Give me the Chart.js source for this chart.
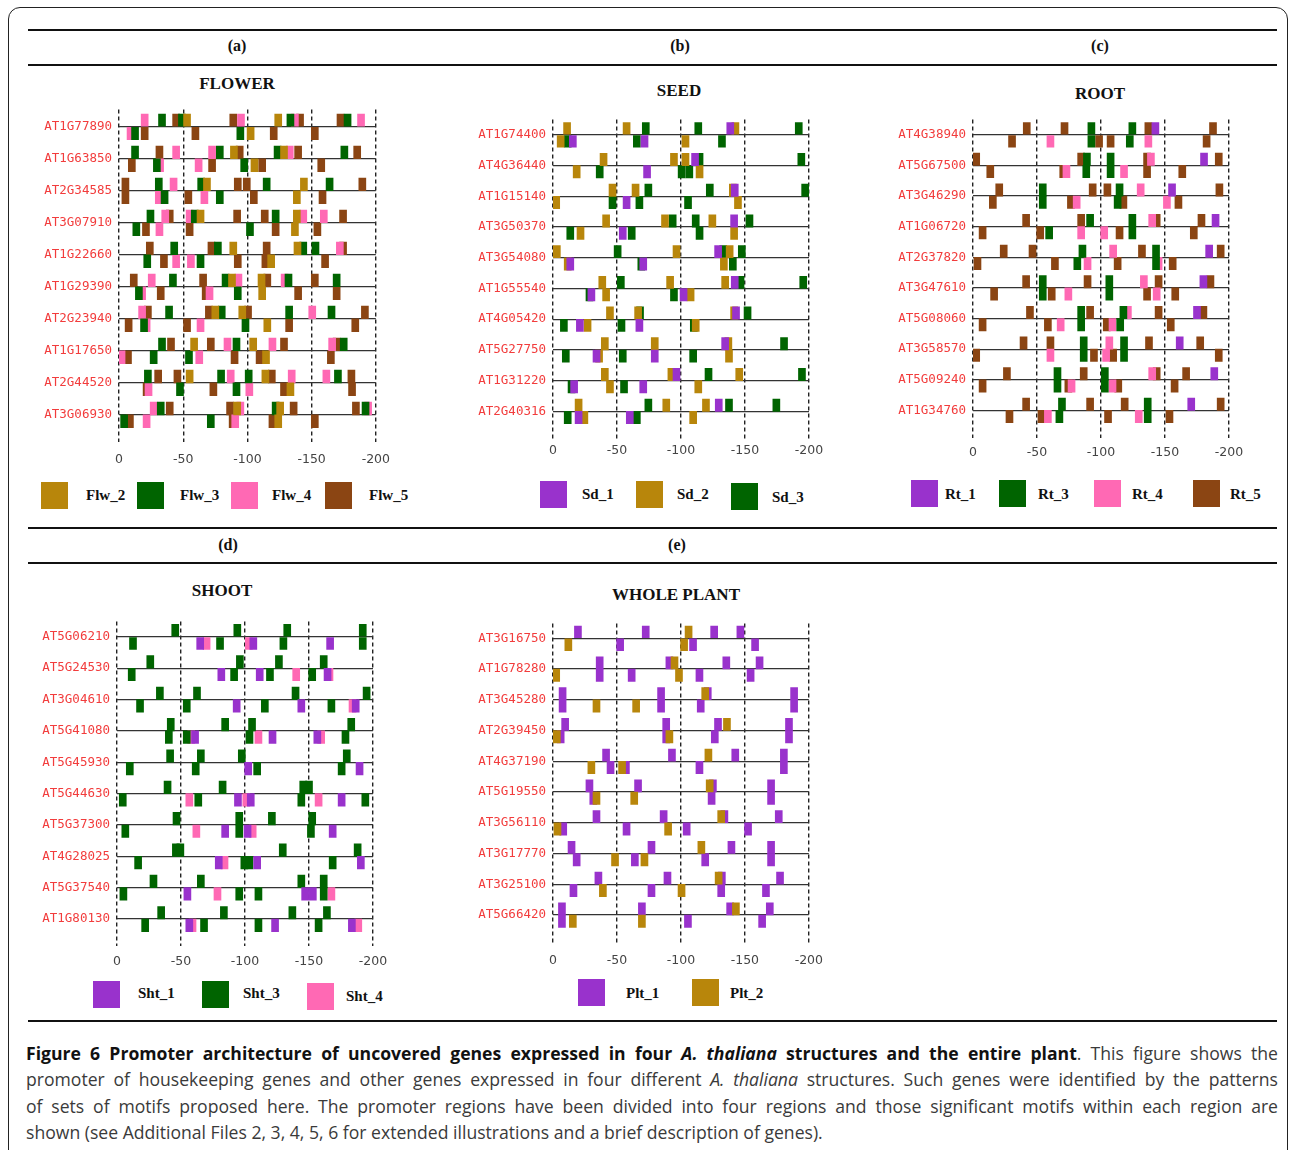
<!DOCTYPE html>
<html>
<head>
<meta charset="utf-8">
<script src="https://cdn.jsdelivr.net/npm/chart.js@4.4.1/dist/chart.umd.min.js"></script>
<style>
  body { margin: 0; background: #fff; width: 1290px; height: 1150px; overflow: hidden; position: relative; }
  .abs { position: absolute; }
  .frame { left: 8px; top: 7px; width: 1280px; height: 1180px; border: 1.5px solid #222; border-radius: 12px 12px 0 0; box-sizing: border-box; }
  .rule { left: 28px; width: 1249px; height: 2px; background: #111; }
  .hdr { font: bold 16px 'Liberation Serif', serif; transform: translate(-50%, -50%); color: #111; }
  .ttl { font: bold 17px 'Liberation Serif', serif; transform: translate(-50%, -50%); color: #111; white-space: nowrap; }
  .sw { width: 27px; height: 27px; }
  .lab { font: bold 15px 'Liberation Serif', serif; transform: translateY(-50%); color: #111; }
  .cap { left: 26px; width: 1252px; font: 17.6px 'Open Sans', sans-serif; color: #3a3a3a; line-height: 26px; text-align: justify; text-align-last: justify; white-space: nowrap; }
  .cap.last { text-align-last: left; }
  .cap b { color: #111; }
</style>
</head>
<body>
<div class="abs frame"></div>
<div class="abs rule" style="top:29px"></div>
<div class="abs rule" style="top:64px"></div>
<div class="abs rule" style="top:527px"></div>
<div class="abs rule" style="top:562px"></div>
<div class="abs rule" style="top:1020px"></div>

<div class="abs hdr" style="left:237px;top:46px">(a)</div>
<div class="abs hdr" style="left:680px;top:46px">(b)</div>
<div class="abs hdr" style="left:1100px;top:46px">(c)</div>
<div class="abs hdr" style="left:228px;top:545px">(d)</div>
<div class="abs hdr" style="left:677px;top:545px">(e)</div>

<div class="abs ttl" style="left:237px;top:84px">FLOWER</div>
<div class="abs ttl" style="left:679px;top:91px">SEED</div>
<div class="abs ttl" style="left:1100px;top:94px">ROOT</div>
<div class="abs ttl" style="left:222px;top:591px">SHOOT</div>
<div class="abs ttl" style="left:676px;top:595px">WHOLE PLANT</div>

<canvas id="cFlower" class="abs"></canvas>
<canvas id="cSeed" class="abs"></canvas>
<canvas id="cRoot" class="abs"></canvas>
<canvas id="cShoot" class="abs"></canvas>
<canvas id="cPlant" class="abs"></canvas>
<div id="legends"></div>

<div class="abs cap" style="top:1040px"><b>Figure 6 Promoter architecture of uncovered genes expressed in four <i>A. thaliana</i> structures and the entire plant</b>. This figure shows the</div>
<div class="abs cap" style="top:1066px">promoter of housekeeping genes and other genes expressed in four different <i>A. thaliana</i> structures. Such genes were identified by the patterns</div>
<div class="abs cap" style="top:1093px">of sets of motifs proposed here. The promoter regions have been divided into four regions and those significant motifs within each region are</div>
<div class="abs cap last" style="top:1119px">shown (see Additional Files 2, 3, 4, 5, 6 for extended illustrations and a brief description of genes).</div>

<script>
// motif colours
const GOLD = '#b8860b', GREEN = '#006400', PINK = '#ff69b4', BROWN = '#8b4513', PURPLE = '#9932cc';

// motif entries: [gene index, motif type index, distance from TSS (bp), strand (1 above line, -1 below)]
const flowerGenes = ['AT1G77890', 'AT1G63850', 'AT2G34585', 'AT3G07910', 'AT1G22660', 'AT1G29390', 'AT2G23940', 'AT1G17650', 'AT2G44520', 'AT3G06930'];
const flowerTypes = ['Flw_2', 'Flw_3', 'Flw_4', 'Flw_5'];
const flowerMotifs = [
  [0,2,20,1],[0,1,33.5,1],[0,3,44.5,1],[0,1,49,1],[0,0,53,1],[0,3,89,1],[0,2,95,1],[0,0,124,1],[0,2,137,1],[0,1,133.5,1],[0,3,141,1],[0,3,172.5,1],[0,1,178,1],[0,2,188.5,1],
  [0,2,9,-1],[0,1,12.5,-1],[0,3,20,-1],[0,3,59.5,-1],[0,1,94.5,-1],[0,0,102.5,-1],[0,3,120.5,-1],[0,3,152.5,-1],
  [1,1,12.5,1],[1,3,31.5,1],[1,2,44.5,1],[1,2,72.5,1],[1,1,78.5,1],[1,0,89.5,1],[1,3,94,1],[1,1,123.5,1],[1,0,128.5,1],[1,2,133,1],[1,3,139.5,1],[1,1,175.5,1],[1,3,185.5,1],
  [1,3,10,-1],[1,1,29.5,-1],[1,2,32,-1],[1,2,62,-1],[1,3,72.5,-1],[1,1,97.5,-1],[1,0,105.5,-1],[1,3,111.5,-1],[1,3,157.5,-1],
  [2,3,5,1],[2,1,31,1],[2,2,42.5,1],[2,1,64,1],[2,0,68.5,1],[2,3,92.5,1],[2,3,99.5,1],[2,1,115,1],[2,0,144,1],[2,1,164,1],[2,3,189.5,1],
  [2,3,5,-1],[2,2,31,-1],[2,1,35.5,-1],[2,3,54,-1],[2,2,66.5,-1],[2,1,78.5,-1],[2,3,105,-1],[2,0,138.5,-1],[2,3,158.5,-1],
  [3,1,24.5,1],[3,2,36,1],[3,3,39.5,1],[3,2,55,1],[3,1,59,1],[3,0,63.5,1],[3,3,92,1],[3,3,113.5,1],[3,1,122,1],[3,0,138.5,1],[3,2,143.5,1],[3,2,159.5,1],[3,3,174.5,1],
  [3,1,13.5,-1],[3,3,21,-1],[3,2,31.5,-1],[3,3,55,-1],[3,1,102,-1],[3,3,122,-1],[3,0,137,-1],[3,3,154.5,-1],
  [4,3,24,1],[4,1,43,1],[4,3,72,1],[4,1,77,1],[4,0,89,1],[4,3,115,1],[4,0,139,1],[4,1,143.5,1],[4,1,153,1],[4,2,172,1],[4,3,174.5,1],
  [4,1,22,-1],[4,3,35,-1],[4,2,44.5,-1],[4,2,56,-1],[4,1,63.5,-1],[4,3,92.5,-1],[4,3,114,-1],[4,0,118.5,-1],[4,3,160.5,-1],
  [5,3,11.5,1],[5,2,25.5,1],[5,1,42,1],[5,3,65.5,1],[5,1,83,1],[5,0,88,1],[5,2,93,1],[5,0,111,1],[5,3,115.5,1],[5,2,129,1],[5,1,132,1],[5,3,152.5,1],[5,1,169.5,1],
  [5,1,15.5,-1],[5,2,18,-1],[5,3,32.5,-1],[5,3,67.5,-1],[5,2,70.5,-1],[5,1,92.5,-1],[5,0,111.5,-1],[5,3,139.5,-1],[5,3,169.5,-1],
  [6,2,18,1],[6,3,22.5,1],[6,1,39,1],[6,3,70,1],[6,0,75,1],[6,1,80,1],[6,0,96,1],[6,3,100.5,1],[6,1,132.5,1],[6,2,150.5,1],[6,1,165.5,1],[6,3,191.5,1],
  [6,3,7.5,-1],[6,1,19.5,-1],[6,2,21.5,-1],[6,3,53,-1],[6,2,63.5,-1],[6,1,98.5,-1],[6,0,115.5,-1],[6,3,132.5,-1],[6,3,184,-1],
  [7,1,33.5,1],[7,3,40.5,1],[7,0,58.5,1],[7,3,71.5,1],[7,2,84.5,1],[7,1,91.5,1],[7,0,104.5,1],[7,2,119.5,1],[7,3,128.5,1],[7,2,166,1],[7,3,169.5,1],[7,1,175,1],
  [7,2,2,-1],[7,3,7,-1],[7,1,27,-1],[7,1,54.5,-1],[7,2,62.5,-1],[7,3,90,-1],[7,3,109.5,-1],[7,0,114.5,-1],[7,3,165,-1],
  [8,1,22.5,1],[8,3,30.5,1],[8,3,45.5,1],[8,0,55,1],[8,1,79.5,1],[8,2,87,1],[8,1,101,1],[8,0,114,1],[8,3,119,1],[8,2,134.5,1],[8,2,161.5,1],[8,1,170.5,1],[8,3,181,1],
  [8,3,21.5,-1],[8,2,23,-1],[8,1,47.5,-1],[8,3,73.5,-1],[8,1,91.5,-1],[8,2,101.5,-1],[8,3,128.5,-1],[8,0,133.5,-1],[8,3,181.5,-1],
  [9,2,27,1],[9,1,32.5,1],[9,3,39.5,1],[9,3,86.5,1],[9,0,92,1],[9,2,94.5,1],[9,1,122,1],[9,0,125.5,1],[9,3,136,1],[9,3,184.5,1],[9,1,192,1],[9,2,194,1],
  [9,1,4,-1],[9,3,8.5,-1],[9,2,21.5,-1],[9,1,71.5,-1],[9,3,88.5,-1],[9,2,90.5,-1],[9,3,119.5,-1],[9,0,124,-1],[9,3,152.5,-1]
];

const seedGenes = ['AT1G74400', 'AT4G36440', 'AT1G15140', 'AT3G50370', 'AT3G54080', 'AT1G55540', 'AT4G05420', 'AT5G27750', 'AT1G31220', 'AT2G40316'];
const seedTypes = ['Sd_1', 'Sd_2', 'Sd_3'];
const seedMotifs = [
  [0,1,11,1],[0,1,57.5,1],[0,2,72.5,1],[0,2,113.5,1],[0,0,138.5,1],[0,1,142.5,1],[0,2,192,1],
  [0,1,6,-1],[0,2,11.5,-1],[0,0,15.5,-1],[0,2,65.5,-1],[0,0,71.5,-1],[0,1,103.5,-1],[0,2,132,-1],
  [1,1,39.5,1],[1,1,94.5,1],[1,1,103.5,1],[1,0,111,1],[1,2,114.5,1],[1,2,194,1],
  [1,1,18.5,-1],[1,2,36.5,-1],[1,0,73.5,-1],[1,2,100.5,-1],[1,2,106.5,-1],[1,1,114.5,-1],
  [2,1,46.5,1],[2,1,64.5,1],[2,2,74.5,1],[2,2,122.5,1],[2,1,140.5,1],[2,0,142,1],[2,2,197,1],
  [2,1,2.5,-1],[2,2,46.5,-1],[2,0,57.5,-1],[2,2,67.5,-1],[2,2,105.5,-1],[2,1,144.5,-1],
  [3,1,41.5,1],[3,1,87.5,1],[3,2,93.5,1],[3,2,111.5,1],[3,1,124.5,1],[3,0,141.5,1],[3,2,153.5,1],
  [3,2,13.5,-1],[3,1,21.5,-1],[3,0,54.5,-1],[3,2,61.5,-1],[3,2,114.5,-1],[3,1,141.5,-1],
  [4,1,3,1],[4,2,50.5,1],[4,1,96.5,1],[4,0,129,1],[4,2,133,1],[4,1,138,1],[4,2,147.5,1],
  [4,1,11.5,-1],[4,0,13.5,-1],[4,2,69,-1],[4,0,70.5,-1],[4,1,133.5,-1],[4,2,140.5,-1],
  [5,1,38.5,1],[5,2,53,1],[5,1,91.5,1],[5,1,134.5,1],[5,0,142,1],[5,2,146.5,1],[5,2,195.5,1],
  [5,2,28.5,-1],[5,0,30,-1],[5,1,41.5,-1],[5,2,94.5,-1],[5,0,102,-1],[5,1,107.5,-1],
  [6,1,44.5,1],[6,1,66.5,1],[6,2,68,1],[6,1,141.5,1],[6,0,143,1],[6,2,152,1],
  [6,2,8.5,-1],[6,0,21,-1],[6,1,27,-1],[6,2,53.5,-1],[6,0,67.5,-1],[6,2,110,-1],[6,1,111.5,-1],
  [7,1,40.5,1],[7,1,79.5,1],[7,0,134.5,1],[7,1,137,1],[7,2,180.5,1],
  [7,2,10,-1],[7,0,34,-1],[7,1,36,-1],[7,2,54.5,-1],[7,0,79.5,-1],[7,2,109.5,-1],[7,1,137.5,-1],
  [8,1,40.5,1],[8,1,92.5,1],[8,0,96.5,1],[8,2,121.5,1],[8,1,145.5,1],[8,2,194.5,1],
  [8,2,14.5,-1],[8,0,16.5,-1],[8,1,44.5,-1],[8,2,55.5,-1],[8,0,70.5,-1],[8,1,113.5,-1],
  [9,1,20,1],[9,2,74.5,1],[9,1,88.5,1],[9,1,119.5,1],[9,0,129.5,1],[9,2,137.5,1],[9,2,174.5,1],
  [9,2,11.5,-1],[9,0,20,-1],[9,1,24.5,-1],[9,0,60,-1],[9,2,65.5,-1],[9,1,109.5,-1]
];

const rootGenes = ['AT4G38940', 'AT5G67500', 'AT3G46290', 'AT1G06720', 'AT2G37820', 'AT3G47610', 'AT5G08060', 'AT3G58570', 'AT5G09240', 'AT1G34760'];
const rootTypes = ['Rt_1', 'Rt_3', 'Rt_4', 'Rt_5'];
const rootMotifs = [
  [0,3,42,1],[0,3,71.5,1],[0,1,92.5,1],[0,1,124.5,1],[0,3,137,1],[0,0,142.5,1],[0,3,187.5,1],
  [0,3,30.5,-1],[0,2,60.5,-1],[0,1,92.5,-1],[0,3,98.5,-1],[0,3,107.5,-1],[0,1,122.5,-1],[0,2,137,-1],[0,3,182.5,-1],
  [1,3,2.5,1],[1,3,84.5,1],[1,1,89,1],[1,1,107.5,1],[1,2,139,1],[1,3,136,1],[1,0,180.5,1],[1,3,192,1],
  [1,3,13.5,-1],[1,2,73,-1],[1,3,70.5,-1],[1,1,88.5,-1],[1,1,107.5,-1],[1,2,118,-1],[1,3,136,-1],[1,3,163.5,-1],
  [2,3,20.5,1],[2,1,54.5,1],[2,3,93.5,1],[2,3,105,1],[2,1,114.5,1],[2,2,131,1],[2,0,155.5,1],[2,3,192.5,1],
  [2,3,15.5,-1],[2,1,54.5,-1],[2,3,76.5,-1],[2,2,81,-1],[2,1,113,-1],[2,3,117.5,-1],[2,2,151.5,-1],[2,3,160.5,-1],
  [3,3,41.5,1],[3,3,84.5,1],[3,1,91.5,1],[3,1,124.5,1],[3,2,140,1],[3,3,143.5,1],[3,3,178.5,1],[3,0,189.5,1],
  [3,3,7.5,-1],[3,3,52.5,-1],[3,1,59.5,-1],[3,2,84.5,-1],[3,2,102.5,-1],[3,3,114.5,-1],[3,1,124.5,-1],[3,3,172.5,-1],
  [4,3,24,1],[4,3,46.5,1],[4,1,85.5,1],[4,2,109.5,1],[4,3,132,1],[4,1,143,1],[4,0,184.5,1],[4,3,193.5,1],
  [4,3,3.5,-1],[4,3,64,-1],[4,1,81.5,-1],[4,2,89.5,-1],[4,3,113,-1],[4,2,145,-1],[4,1,143,-1],[4,3,156,-1],
  [5,3,41.5,1],[5,1,54.5,1],[5,3,89.5,1],[5,1,106.5,1],[5,2,133.5,1],[5,3,145,1],[5,0,180,1],[5,3,185.5,1],
  [5,3,16.5,-1],[5,1,54.5,-1],[5,3,61.5,-1],[5,2,74.5,-1],[5,1,106.5,-1],[5,3,136,-1],[5,2,143.5,-1],[5,3,158,-1],
  [6,3,44.5,1],[6,1,84.5,1],[6,3,91.5,1],[6,1,117.5,1],[6,2,121,1],[6,3,145,1],[6,0,175,1],[6,3,180,1],
  [6,3,7.5,-1],[6,3,58.5,-1],[6,2,68.5,-1],[6,1,84.5,-1],[6,3,104.5,-1],[6,2,109,-1],[6,1,115,-1],[6,3,154.5,-1],
  [7,3,39.5,1],[7,3,60.5,1],[7,1,86.5,1],[7,2,106.5,1],[7,1,118,1],[7,3,137.5,1],[7,0,161.5,1],[7,3,177.5,1],
  [7,3,2.5,-1],[7,2,60.5,-1],[7,1,86.5,-1],[7,3,94.5,-1],[7,2,104,-1],[7,3,109.5,-1],[7,1,118,-1],[7,3,192,-1],
  [8,3,26.5,1],[8,1,66,1],[8,3,86.5,1],[8,1,103,1],[8,2,140,1],[8,3,143.5,1],[8,3,166.5,1],[8,0,188.5,1],
  [8,3,7.5,-1],[8,1,66,-1],[8,3,74.5,-1],[8,2,77,-1],[8,1,103,-1],[8,2,109,-1],[8,3,113.5,-1],[8,3,157.5,-1],
  [9,3,41.5,1],[9,1,69.5,1],[9,3,91.5,1],[9,3,118.5,1],[9,1,136.5,1],[9,0,170.5,1],[9,3,193.5,1],
  [9,3,28.5,-1],[9,3,53.5,-1],[9,2,58.5,-1],[9,1,67.5,-1],[9,3,105.5,-1],[9,2,129.5,-1],[9,1,136.5,-1],[9,3,153.5,-1]
];

const shootGenes = ['AT5G06210', 'AT5G24530', 'AT3G04610', 'AT5G41080', 'AT5G45930', 'AT5G44630', 'AT5G37300', 'AT4G28025', 'AT5G37540', 'AT1G80130'];
const shootTypes = ['Sht_1', 'Sht_3', 'Sht_4'];
const shootMotifs = [
  [0,1,45.5,1],[0,1,94,1],[0,1,133,1],[0,1,192,1],
  [0,1,12.5,-1],[0,0,65,-1],[0,2,70,-1],[0,1,80.5,-1],[0,2,103,-1],[0,0,106.5,-1],[0,1,130,-1],[0,0,166.5,-1],[0,1,192,-1],
  [1,1,26,1],[1,1,96,1],[1,1,126.5,1],[1,1,161.5,1],
  [1,1,11.5,-1],[1,0,81.5,-1],[1,1,91.5,-1],[1,0,111.5,-1],[1,1,119.5,-1],[1,2,140,-1],[1,1,152.5,-1],[1,2,166,-1],[1,0,164.5,-1],
  [2,1,33.5,1],[2,1,62.5,1],[2,1,139.5,1],[2,1,195,1],
  [2,1,18,-1],[2,1,54.5,-1],[2,0,93.5,-1],[2,1,115.5,-1],[2,0,144,-1],[2,1,167.5,-1],[2,2,184,-1],[2,0,186.5,-1],
  [3,1,42,1],[3,1,84.5,1],[3,1,105.5,1],[3,1,183,1],
  [3,1,40.5,-1],[3,1,54.5,-1],[3,2,58,-1],[3,0,61,-1],[3,1,103.5,-1],[3,2,110.5,-1],[3,0,121.5,-1],[3,0,156.5,-1],[3,2,159.5,-1],[3,1,178.5,-1],
  [4,1,41.5,1],[4,1,65.5,1],[4,1,97.5,1],[4,1,179.5,1],
  [4,1,10,-1],[4,1,61.5,-1],[4,0,102.5,-1],[4,1,109.5,-1],[4,1,175.5,-1],[4,0,189.5,-1],
  [5,1,39.5,1],[5,1,82.5,1],[5,1,145.5,1],[5,1,150,1],
  [5,1,4.5,-1],[5,2,56.5,-1],[5,1,63.5,-1],[5,0,94.5,-1],[5,2,101,-1],[5,0,104.5,-1],[5,1,144,-1],[5,2,157.5,-1],[5,0,175.5,-1],[5,1,194,-1],
  [6,1,46.5,1],[6,1,95.5,1],[6,1,121,1],[6,1,152.5,1],
  [6,1,6.5,-1],[6,2,62,-1],[6,0,84.5,-1],[6,1,95.5,-1],[6,0,102,-1],[6,2,106,-1],[6,1,151.5,-1],[6,0,168.5,-1],
  [7,1,46,1],[7,1,49.5,1],[7,1,129.5,1],[7,1,188,1],
  [7,1,16.5,-1],[7,0,79.5,-1],[7,2,84,-1],[7,1,99.5,-1],[7,1,103.5,-1],[7,0,109.5,-1],[7,1,168.5,-1],[7,0,190.5,-1],
  [8,1,28.5,1],[8,1,65.5,1],[8,1,144,1],[8,1,161.5,1],
  [8,1,5,-1],[8,0,55,-1],[8,2,78.5,-1],[8,1,95.5,-1],[8,1,110.5,-1],[8,0,147,-1],[8,0,153,-1],[8,1,161.5,-1],[8,2,167.5,-1],
  [9,1,34.5,1],[9,1,83.5,1],[9,1,137,1],[9,1,164,1],
  [9,1,22,-1],[9,0,56.5,-1],[9,2,59,-1],[9,1,68,-1],[9,1,110.5,-1],[9,0,123.5,-1],[9,1,157.5,-1],[9,0,183.5,-1],[9,2,188.5,-1]
];

const plantGenes = ['AT3G16750', 'AT1G78280', 'AT3G45280', 'AT2G39450', 'AT4G37190', 'AT5G19550', 'AT3G56110', 'AT3G17770', 'AT3G25100', 'AT5G66420'];
const plantTypes = ['Plt_1', 'Plt_2'];
const plantMotifs = [
  [0,0,19.5,1],[0,0,72.5,1],[0,1,106,1],[0,0,126,1],[0,0,146.5,1],
  [0,1,12,-1],[0,0,52.5,-1],[0,1,102.5,-1],[0,0,109.5,-1],[0,0,158,-1],
  [1,0,36.5,1],[1,0,91,1],[1,1,95,1],[1,0,135.5,1],[1,0,161.5,1],
  [1,1,2.5,-1],[1,0,36.5,-1],[1,0,61.5,-1],[1,1,98.5,-1],[1,0,114.5,-1],[1,0,154.5,-1],
  [2,0,7.5,1],[2,0,84.5,1],[2,1,119,1],[2,0,121,1],[2,0,188.5,1],
  [2,0,7.5,-1],[2,1,34,-1],[2,1,65,-1],[2,0,84.5,-1],[2,0,115.5,-1],[2,0,188.5,-1],
  [3,0,9.5,1],[3,0,88.5,1],[3,0,129,1],[3,1,136,1],[3,0,184.5,1],
  [3,1,3,-1],[3,0,6,-1],[3,0,88.5,-1],[3,1,91,-1],[3,0,126.5,-1],[3,0,184.5,-1],
  [4,0,41.5,1],[4,0,93,1],[4,1,121.5,1],[4,0,142.5,1],[4,0,180.5,1],
  [4,1,30,-1],[4,0,45,-1],[4,1,54,-1],[4,0,57,-1],[4,0,114.5,-1],[4,0,180.5,-1],
  [5,0,28.5,1],[5,0,66.5,1],[5,1,122.5,1],[5,0,125,1],[5,0,170.5,1],
  [5,0,31.5,-1],[5,1,34,-1],[5,1,63.5,-1],[5,0,124,-1],[5,0,170.5,-1],
  [6,0,34,1],[6,0,86.5,1],[6,1,131.5,1],[6,0,134,1],[6,0,176.5,1],
  [6,1,3.5,-1],[6,0,8,-1],[6,0,57.5,-1],[6,1,90,-1],[6,0,104.5,-1],[6,0,152.5,-1],
  [7,0,14.5,1],[7,0,77,1],[7,1,116,1],[7,0,139.5,1],[7,0,170.5,1],
  [7,0,18.5,-1],[7,1,48.5,-1],[7,0,64,-1],[7,1,71.5,-1],[7,0,119,-1],[7,0,170.5,-1],
  [8,0,35.5,1],[8,0,89.5,1],[8,1,129.5,1],[8,0,132,1],[8,0,177.5,1],
  [8,0,16,-1],[8,1,39,-1],[8,0,77,-1],[8,1,100.5,-1],[8,0,131.5,-1],[8,0,166.5,-1],
  [9,0,7,1],[9,0,69.5,1],[9,0,138.5,1],[9,1,143,1],[9,0,169.5,1],
  [9,0,7,-1],[9,1,15.5,-1],[9,1,69.5,-1],[9,0,105.5,-1],[9,0,163.5,-1]
];

const MOTIF_H = 0.4;   // rectangle height, in gene-row units
const LABEL_W = 90;    // space for gene names left of the promoter line

function drawPanel(id, genes, types, colors, motifs, box, order) {
  const canvas = document.getElementById(id);
  canvas.width = LABEL_W + box.w + 24;
  canvas.height = 8 + box.h + 32;
  canvas.style.left = (box.x - LABEL_W) + 'px';
  canvas.style.top = (box.y - 8) + 'px';

  const datasets = types.map((t, k) => ({
    label: t,
    data: motifs.filter(m => m[1] === k).map(m => ({ x: -m[2], y: [m[0], m[0] - m[3] * MOTIF_H] })),
    backgroundColor: colors[k],
    borderWidth: 0,
    barThickness: 7,
    grouped: false,
    order: order ? order[k] : k
  }));

  new Chart(canvas, {
    type: 'bar',
    data: { datasets },
    options: {
      responsive: false,
      animation: false,
      events: [],
      layout: { padding: { top: 8, right: 24, left: 0, bottom: 0 } },
      plugins: { legend: { display: false }, tooltip: { enabled: false } },
      scales: {
        x: {
          type: 'linear', min: -200, max: 0, reverse: true, offset: false,
          grid: { color: '#222', lineWidth: 1.4, drawTicks: false, offset: false },
          border: { display: false, dash: [4, 3] },
          ticks: { stepSize: 50, padding: box.tp, color: '#444', font: { family: 'DejaVu Sans', size: 12.5 } },
          afterFit: s => { s.height = 32; }
        },
        y: {
          type: 'linear', min: box.ymin, max: box.ymax, reverse: true,
          afterBuildTicks: s => { s.ticks = genes.map((g, i) => ({ value: i })); },
          grid: { color: '#333', lineWidth: 1.3, drawTicks: false },
          border: { display: false },
          ticks: { padding: 7, color: '#f23c3c', font: { family: 'DejaVu Sans Mono', size: 12.5 }, callback: v => genes[v] ?? '' },
          afterFit: s => { s.width = LABEL_W; }
        }
      }
    }
  });
}

drawPanel('cFlower', flowerGenes, flowerTypes, [GOLD, GREEN, PINK, BROWN], flowerMotifs,
  { x: 119.3, y: 103, w: 257, h: 339, ymin: -0.54, ymax: 9.85, tp: 10 });
drawPanel('cSeed', seedGenes, seedTypes, [PURPLE, GOLD, GREEN], seedMotifs,
  { x: 553.3, y: 113, w: 256, h: 327, ymin: -0.5, ymax: 9.93, tp: 3 });
drawPanel('cRoot', rootGenes, rootTypes, [PURPLE, GREEN, PINK, BROWN], rootMotifs,
  { x: 972.7, y: 113, w: 256.3, h: 325, ymin: -0.5, ymax: 9.9, tp: 7 });
drawPanel('cShoot', shootGenes, shootTypes, [PURPLE, GREEN, PINK], shootMotifs,
  { x: 117.3, y: 615, w: 256, h: 331.7, ymin: -0.49, ymax: 9.86, tp: 8 });
drawPanel('cPlant', plantGenes, plantTypes, [PURPLE, GOLD], plantMotifs,
  { x: 553.3, y: 616.7, w: 256.7, h: 326.3, ymin: -0.48, ymax: 9.91, tp: 10 }, [1, 0]);

// legends: [label, colour, swatch left, swatch top, text left, text centre y]
const legendItems = [
  ['Flw_2', GOLD, 41, 482, 86, 495], ['Flw_3', GREEN, 137, 482, 180, 495], ['Flw_4', PINK, 231, 482, 272, 495], ['Flw_5', BROWN, 325, 482, 369, 495],
  ['Sd_1', PURPLE, 540, 481, 582, 494], ['Sd_2', GOLD, 636, 481, 677, 494], ['Sd_3', GREEN, 731, 483, 772, 497],
  ['Rt_1', PURPLE, 911, 480, 945, 494], ['Rt_3', GREEN, 999, 480, 1038, 494], ['Rt_4', PINK, 1094, 480, 1132, 494], ['Rt_5', BROWN, 1193, 480, 1230, 494],
  ['Sht_1', PURPLE, 93, 981, 138, 993], ['Sht_3', GREEN, 202, 981, 243, 993], ['Sht_4', PINK, 307, 983, 346, 996],
  ['Plt_1', PURPLE, 578, 979, 626, 993], ['Plt_2', GOLD, 692, 979, 730, 993]
];
const leg = document.getElementById('legends');
legendItems.forEach(([name, col, sx, sy, tx, ty]) => {
  const sw = document.createElement('div');
  sw.className = 'abs sw';
  sw.style.cssText = `left:${sx}px;top:${sy}px;background:${col}`;
  leg.appendChild(sw);
  const lb = document.createElement('div');
  lb.className = 'abs lab';
  lb.style.cssText = `left:${tx}px;top:${ty}px`;
  lb.textContent = name;
  leg.appendChild(lb);
});
</script>
</body>
</html>
